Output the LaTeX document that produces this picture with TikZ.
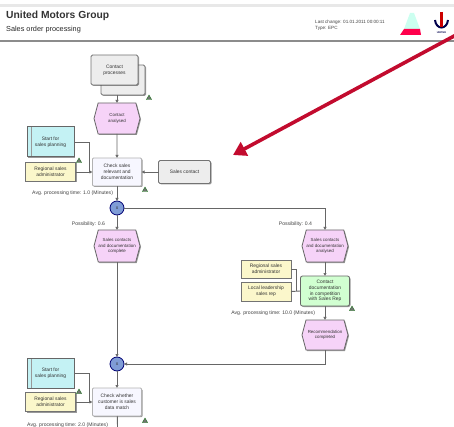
\documentclass[tikz,border=0pt]{standalone}
\usepackage{fontspec}
\setmainfont{Liberation Sans}
\usetikzlibrary{positioning,arrows.meta,shapes.symbols,shapes.geometric,shadows}
\definecolor{evtpink}{HTML}{F6D3F8}
\definecolor{infocyan}{HTML}{C4F2F4}
\definecolor{rolecream}{HTML}{FBF7CB}
\definecolor{gateblue}{HTML}{7F9CD6}
\definecolor{redarrow}{HTML}{C20B2E}
\tikzset{
	soft/.style={drop shadow={shadow xshift=1pt,shadow yshift=-1pt,opacity=.4,fill=black}},
	txt/.style={font=\fontsize{4.9}{5.8}\selectfont,align=center,text=black!80,inner sep=0pt,outer sep=0pt},
	docbox/.style={txt,soft,draw=black!55,line width=.8pt,fill=black!7,rounded corners=1.5pt,minimum width=47pt,minimum height=30pt},
	evt/.style={txt,font=\fontsize{4.4}{5.6}\selectfont,soft,draw=black!60,line width=.8pt,fill=evtpink,shape=signal,signal to=west and east,signal pointer angle=150,minimum width=46pt,minimum height=31pt},
	fn/.style={txt,soft,draw=black!30,line width=.8pt,fill=blue!3,rounded corners=1pt,minimum width=49pt,minimum height=28pt},
	fngreen/.style={fn,draw=black!60,fill=green!18,minimum height=30pt,rounded corners=2pt},
	info/.style={txt,soft,draw=black!60,line width=1pt,fill=infocyan,minimum width=47pt,minimum height=30pt,path picture={\draw[black!40,line width=.6pt] ([xshift=4pt]path picture bounding box.north west) -- ([xshift=4pt]path picture bounding box.south west);}},
	role/.style={txt,soft,draw=black!55,line width=.8pt,fill=rolecream,minimum width=50pt,minimum height=19pt},
	gate/.style={txt,circle,draw=blue!45!black,line width=.8pt,fill=gateblue,minimum size=14pt},
	timelabel/.style={txt,font=\fontsize{5.1}{6}\selectfont,text=black!75},
	markicon/.style={regular polygon,regular polygon sides=3,fill=black!55,draw=green!40!black,line width=.3pt,inner sep=0pt,minimum size=6pt},
	flow/.style={draw=black!60,line width=.9pt,-{Latex[length=3pt,width=3.5pt]}},
}
\begin{document}
\begin{tikzpicture}[x=1pt,y=-1pt]
	\useasboundingbox (0,0) rectangle (454,427);
	\fill[black!9] (0,4) rectangle (454,7);
	\fill[black!45] (0,40) rectangle (454,42);
	\node[anchor=west,font=\fontsize{10.3}{12}\selectfont\bfseries,text=black!80,inner sep=0pt] (title) at (6,16) {United Motors Group};
	\node[anchor=west,font=\fontsize{7.3}{8}\selectfont,text=black!85,inner sep=0pt] (subtitle) at (6,30) {Sales order processing};
	\node[anchor=north west,font=\fontsize{4.6}{6.2}\selectfont,text=black!75,align=left,inner sep=0pt] (stamp) at (315,20) {Last change: 01.01.2011 00:00:11\\Type: EPC};
	%
	\fill[green!30!cyan!20] (410,13) -- (414,13) -- (420,29) -- (404,29) -- cycle;
	\fill[red!70!magenta] (404,29) -- (420,29) -- (421,35) -- (400,35) -- cycle;
	\draw[blue!30!black,line width=2pt] (435,20) .. controls (436,30) and (447,30) .. (448,20);
	\draw[red!80!black,line width=2.5pt] (441.5,12) -- (441.5,27);
	\node[font=\fontsize{2.5}{3}\selectfont\bfseries,text=blue!30!black,inner sep=0pt] (brand) at (441.5,33) {UNITED};
	%
	\node[docbox,minimum width=44pt] (docback) at (123,80) {};
	\node[docbox] (docfront) at (114.5,70) {Contact\\processes};
	\node[evt] (evtA) at (117,118.5) {Contact\\analysed};
	\node[fn,below=24pt of evtA] (fnA) {Check sales\\relevant and\\documentation};
	\node[docbox,right=17pt of fnA,minimum width=52pt,minimum height=23pt] (salesA) {Sales contact};
	\node[info] (infoA) at (50.5,142) {Start for\\sales planning};
	\node[role,left=17pt of fnA] (roleA) {Regional sales\\administrator};
	\node[timelabel,anchor=east] (capA) at (113,193) {Avg. processing time: 1.0 (Minutes)};
	\node[gate,below=15pt of fnA] (xorA) {x};
	\node[timelabel,anchor=east] (probA) at (105,224) {Possibility: 0.6};
	\node[evt,below=15pt of xorA,minimum height=32pt] (evtB) {Sales contacts\\and documentation\\complete};
	\node[gate,below=95pt of evtB] (xorB) {x};
	\node[fn,below=17pt of xorB] (fnB) {Check whether\\customer is sales\\data match};
	\node[info] (infoB) at (50.5,373) {Start for\\sales planning};
	\node[role,left=17pt of fnB] (roleB) {Regional sales\\administrator};
	\node[timelabel,anchor=east] (capB) at (108,425) {Avg. processing time: 2.0 (Minutes)};
	%
	\node[evt,minimum height=32pt] (evtC) at (325,246) {Sales contacts\\and documentation\\analysed};
	\node[timelabel,anchor=east] (probC) at (312,224) {Possibility: 0.4};
	\node[fngreen,below=14pt of evtC] (fnC) {Contact\\documentation\\in competition\\with Sales Rep};
	\node[role,minimum height=18pt] (roleC) at (266,269) {Regional sales\\administrator};
	\node[role,minimum height=19pt] (roleD) at (266,291.5) {Local leadership\\sales rep};
	\node[timelabel,anchor=east] (capC) at (315,313) {Avg. processing time: 10.0 (Minutes)};
	\node[evt,below=14pt of fnC,minimum height=30pt] (evtD) {Recommendation\\completed};
	%
	\node[markicon] (markA) at (149,98) {};
	\node[markicon] (markB) at (145,190) {};
	\node[markicon] (markC) at (79,161) {};
	\node[markicon] (markD) at (79,392) {};
	\node[markicon] (markE) at (145,421) {};
	\node[markicon] (markF) at (352,309) {};
	%
	\coordinate (jointA) at (89,172);
	\coordinate (jointB) at (89,403);
	\coordinate (jointC) at (296,291);
	\coordinate (bottomB) at (117.5,427);
	\path[flow] (docback.south -| evtA.north) -- (evtA.north);
	\path[flow] (evtA) -- (fnA);
	\path[flow] (salesA) -- (fnA);
	\path[flow] (roleA) -- (fnA);
	\path[flow,-] (infoA.east) -| (jointA);
	\path[flow] (fnA) -- (xorA);
	\path[flow] (xorA) -- (evtB);
	\path[flow] (xorA.east) -| (evtC.north);
	\path[flow] (evtB) -- (xorB);
	\path[flow] (evtD.south) |- (xorB.east);
	\path[flow] (xorB) -- (fnB);
	\path[flow] (roleB) -- (fnB);
	\path[flow,-] (infoB.east) -| (jointB);
	\path[flow,-] (fnB) -- (bottomB);
	\path[flow] (evtC) -- (fnC);
	\path[flow] (fnC) -- (evtD);
	\path[flow,-] (roleC.east) -| (jointC);
	\path[flow,-] (roleD.east) -- (fnC.west);
	%
	\coordinate (redstart) at (456,35);
	\coordinate (redtip) at (233,155);
	\draw[draw=redarrow,line width=3.6pt,-{Triangle[length=13pt,width=15pt]}] (redstart) -- (redtip);
\end{tikzpicture}
\end{document}
